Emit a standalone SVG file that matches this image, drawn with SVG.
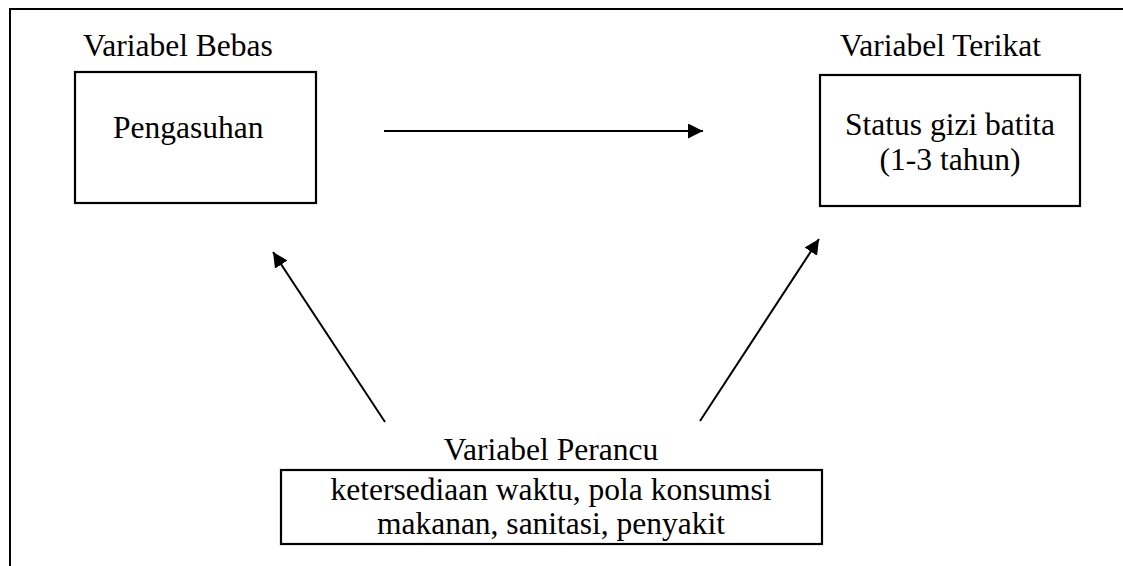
<svg xmlns="http://www.w3.org/2000/svg" width="1123" height="566" viewBox="0 0 1123 566">
<defs>
<style>
.t{font-family:'Liberation Serif','Times New Roman','DejaVu Serif',serif;font-size:31.5px;fill:#000}
.box{fill:none;stroke:#000;stroke-width:2.2}
.ln{stroke:#000;stroke-width:2;fill:none}
</style>
<marker id="ah" markerUnits="userSpaceOnUse" markerWidth="16" markerHeight="16" refX="15" refY="7.5" orient="auto">
<path d="M0,0 L15,7.5 L0,15 z" fill="#000"/>
</marker>
</defs>
<rect width="1123" height="566" fill="#fff"/>
<g id="frame">
<path class="ln" d="M10,566 L10,9 L1123,9" stroke-width="2"/>
</g>
<g id="node-bebas">
<text class="t" font-family="Liberation Serif, serif" x="83" y="56">Variabel Bebas</text>
<rect class="box" x="75" y="72" width="241" height="131"/>
<text class="t" font-family="Liberation Serif, serif" x="113" y="138">Pengasuhan</text>
</g>
<g id="node-terikat">
<text class="t" font-family="Liberation Serif, serif" x="840" y="56">Variabel Terikat</text>
<rect class="box" x="820" y="75" width="260" height="131"/>
<text class="t" font-family="Liberation Serif, serif" x="950" y="135" text-anchor="middle">Status gizi batita</text>
<text class="t" font-family="Liberation Serif, serif" x="950" y="170" text-anchor="middle">(1-3 tahun)</text>
</g>
<g id="node-perancu">
<text class="t" font-family="Liberation Serif, serif" x="551" y="460" text-anchor="middle">Variabel Perancu</text>
<rect class="box" x="281" y="470" width="541" height="74"/>
<text class="t" font-family="Liberation Serif, serif" x="551" y="500" text-anchor="middle">ketersediaan waktu, pola konsumsi</text>
<text class="t" font-family="Liberation Serif, serif" x="551" y="534" text-anchor="middle">makanan, sanitasi, penyakit</text>
</g>
<g id="connectors">
<line class="ln" x1="384" y1="131" x2="703" y2="131" marker-end="url(#ah)"/>
<line class="ln" x1="385" y1="422" x2="273" y2="252" marker-end="url(#ah)"/>
<line class="ln" x1="700" y1="421" x2="819" y2="239" marker-end="url(#ah)"/>
</g>
</svg>
